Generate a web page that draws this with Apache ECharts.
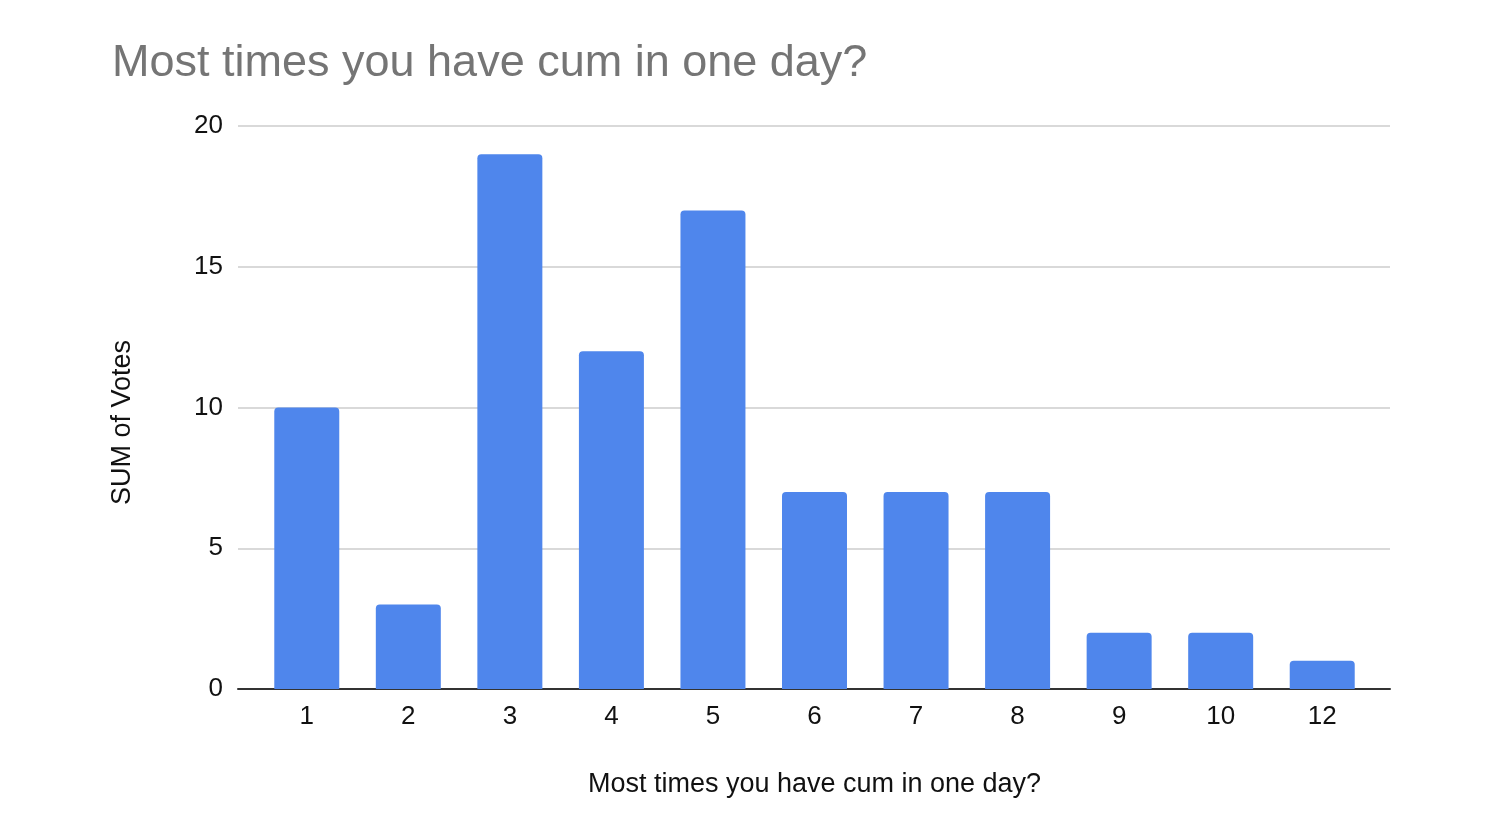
<!DOCTYPE html>
<html><head><meta charset="utf-8">
<script src="https://cdn.jsdelivr.net/npm/echarts@6/dist/echarts.min.js"></script>
<style>html,body{margin:0;padding:0;background:#fff}#c{width:1500px;height:840px}</style>
</head><body><div id="c"></div>
<script>
const categories = ['1','2','3','4','5','6','7','8','9','10','12'];
const votes = [10, 3, 19, 12, 17, 7, 7, 7, 2, 2, 1];
const yTicks = [0, 5, 10, 15, 20];
const titleText = 'Most times you have cum in one day?';
const xName = 'Most times you have cum in one day?';
const yName = 'SUM of Votes';

const FONT = 'Liberation Sans, Arial, sans-serif';
const yMin = yTicks[0], yMax = yTicks[yTicks.length-1];
const chart = echarts.init(document.getElementById('c'), null, {renderer:'canvas'});
chart.setOption({
  animation: false,
  backgroundColor: '#fff',
  textStyle: {fontFamily: FONT},
  title: {
    text: titleText, left: 107, top: 36,
    textStyle: {color: '#757575', fontSize: 45, fontWeight: 'normal', fontFamily: FONT}
  },
  grid: [
    {left: 238, right: 110, top: 126, bottom: 151, containLabel: false},
    {left: 256, right: 127, top: 126, bottom: 151, containLabel: false}
  ],
  xAxis: [
    {
      gridIndex: 0, type: 'category', data: [''],
      axisLine: {lineStyle: {color: '#333', width: 2}},
      axisTick: {show: false}, axisLabel: {show: false}, splitLine: {show: false}
    },
    {
      gridIndex: 1, type: 'category', data: categories,
      name: xName, nameLocation: 'middle', nameGap: 82,
      nameTextStyle: {color: '#111', fontSize: 27},
      axisLine: {show: false},
      axisTick: {show: false},
      axisLabel: {color: '#111', fontSize: 26, margin: 15}
    }
  ],
  yAxis: [
    {
      gridIndex: 0, type: 'value', min: yMin, max: yMax, interval: 5,
      name: yName, nameLocation: 'middle', nameGap: 102, nameRotate: 90,
      nameTextStyle: {color: '#111', fontSize: 27, padding: [0, 30, 0, 0]},
      axisLine: {show: false}, axisTick: {show: false},
      axisLabel: {color: '#111', fontSize: 26, margin: 15},
      splitLine: {lineStyle: {color: '#cccccc', width: 1.5}}
    },
    {
      gridIndex: 1, type: 'value', min: yMin, max: yMax, interval: 5,
      axisLine: {show: false}, axisTick: {show: false},
      axisLabel: {show: false}, splitLine: {show: false}
    }
  ],
  series: [{
    type: 'bar', data: votes, xAxisIndex: 1, yAxisIndex: 1, barWidth: '64%',
    itemStyle: {color: '#4f86ec', borderRadius: [4,4,0,0]}, z: 1
  }]
});
</script></body></html>
